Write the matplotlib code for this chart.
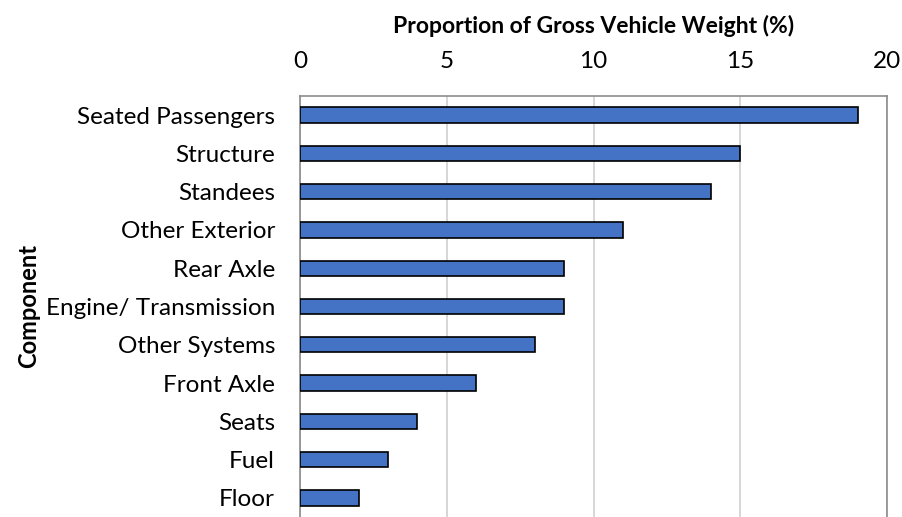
import matplotlib
matplotlib.use('Agg')
import matplotlib.pyplot as plt
import numpy as np

# composantes, de haut en bas
components = ['Seated Passengers', 'Structure', 'Standees', 'Other Exterior',
              'Rear Axle', 'Engine/ Transmission', 'Other Systems', 'Front Axle',
              'Seats', 'Fuel', 'Floor']
share = [19, 15, 14, 11, 9, 9, 8, 6, 4, 3, 2]
xticks = [0, 5, 10, 15, 20]

plt.rcParams['font.family'] = ['Lato', 'DejaVu Sans']

fig = plt.figure(figsize=(9.02, 5.17), dpi=100)
ax = fig.add_axes([300/902, 0.0, 587/902, 1 - 96/517])

y = np.arange(len(components))
ax.barh(y, share, height=0.4, color='#4472C4', edgecolor='black', linewidth=1.2, zorder=3)
ax.set_ylim(len(components) - 0.5, -0.5)
ax.set_xlim(0, 20)
ax.set_yticks(y)
ax.set_yticklabels(components, fontsize=17.5)
ax.set_xticks(xticks)
ax.set_xticklabels([str(t) for t in xticks], fontsize=17.5)

ax.xaxis.tick_top()
ax.xaxis.set_label_position('top')
ax.tick_params(axis='x', length=0, pad=17)
ax.tick_params(axis='y', length=0, pad=18)
ax.set_xlabel('Proportion of Gross Vehicle Weight (%)', fontsize=16.5, fontweight='bold', labelpad=13)
ax.set_ylabel('Component', fontsize=17, fontweight='bold', labelpad=4)

ax.grid(axis='x', color='#D0D0D0', linewidth=1.2, zorder=0)
for s in ['top', 'left', 'right']:
    ax.spines[s].set_color('#8C8C8C')
    ax.spines[s].set_linewidth(1.2)
ax.spines['bottom'].set_visible(False)

fig.savefig('out.png', dpi=100)
